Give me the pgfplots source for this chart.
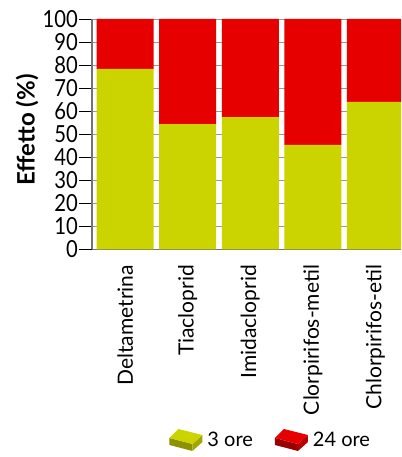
\documentclass[border=0pt]{standalone}
\usepackage{pgfplots}
\pgfplotsset{compat=1.18}
\usepackage{fontspec}
\setmainfont{Lato}
\newfontfamily\condfont{Lato}[FakeStretch=0.86]
\definecolor{cgreen}{HTML}{CCD400}
\definecolor{cgreenD}{HTML}{8C9200}
\definecolor{cgreenE}{HTML}{A0A600}
\definecolor{cred}{HTML}{E60000}
\definecolor{credD}{HTML}{990000}
\definecolor{credE}{HTML}{B80000}
\begin{document}
\begin{tikzpicture}
\begin{axis}[
  at={(92pt,207.7pt)}, anchor=south west,
  scale only axis, width=309pt, height=230.3pt,
  ybar stacked, bar width=57pt,
  xmin=-0.531, xmax=4.41, ymin=0, ymax=100,
  axis x line=bottom, axis y line=left,
  axis line style={-, draw=black!55, line width=1.1pt},
  ymajorgrids, grid style={draw=black!40, line width=0.9pt},
  ytick={0,10,...,100},
  tick align=outside, major tick length=13pt,
  ytick style={draw=black, line width=0.8pt},
  xtick={0,1,2,3,4}, xtick style={draw=none},
  xticklabels={Deltametrina,Tiacloprid,Imidacloprid,Clorpirifos-metil,Chlorpirifos-etil},
  xticklabel style={rotate=90, anchor=east, font=\fontsize{21}{22}\selectfont, inner sep=2.5pt},
  yticklabel style={font=\condfont\fontsize{23.5}{24}\selectfont, inner sep=1pt},
  /pgf/number format/assume math mode=true,
  ylabel={\bfseries Effetto (\%)},
  ylabel style={at={(axis description cs:-0.21,0.518)}, anchor=center, rotate=0, font=\fontsize{24}{25}\selectfont},
  legend columns=2,
  legend style={draw=none, fill=none, at={(axis description cs:0.25,-0.828)}, anchor=west, font=\fontsize{20}{21}\selectfont, column sep=3pt, inner sep=0pt,
    /tikz/every even column/.append style={column sep=20pt}},
]
\addplot[fill=cgreen, draw=none,
  legend image code/.code={
    \fill[cgreenD] (0pt,2pt) -- (23pt,-4pt) -- (23pt,-11pt) -- (0pt,-5pt) -- cycle;
    \fill[cgreenE] (23pt,-4pt) -- (33pt,5pt) -- (33pt,-2pt) -- (23pt,-11pt) -- cycle;
    \fill[cgreen] (0pt,2pt) -- (9pt,11pt) -- (33pt,5pt) -- (23pt,-4pt) -- cycle;
  }] coordinates {(0,78.3) (1,54.4) (2,57.4) (3,45.3) (4,64.0)};
\addlegendentry{3 ore}
\addplot[fill=cred, draw=none,
  legend image code/.code={
    \fill[credD] (0pt,2pt) -- (23pt,-4pt) -- (23pt,-11pt) -- (0pt,-5pt) -- cycle;
    \fill[credE] (23pt,-4pt) -- (33pt,5pt) -- (33pt,-2pt) -- (23pt,-11pt) -- cycle;
    \fill[cred] (0pt,2pt) -- (9pt,11pt) -- (33pt,5pt) -- (23pt,-4pt) -- cycle;
  }] coordinates {(0,21.7) (1,45.6) (2,42.6) (3,54.7) (4,36.0)};
\addlegendentry{24 ore}
\end{axis}
\pgfresetboundingbox
\useasboundingbox (0,0) rectangle (401pt,457pt);
\end{tikzpicture}
\end{document}
